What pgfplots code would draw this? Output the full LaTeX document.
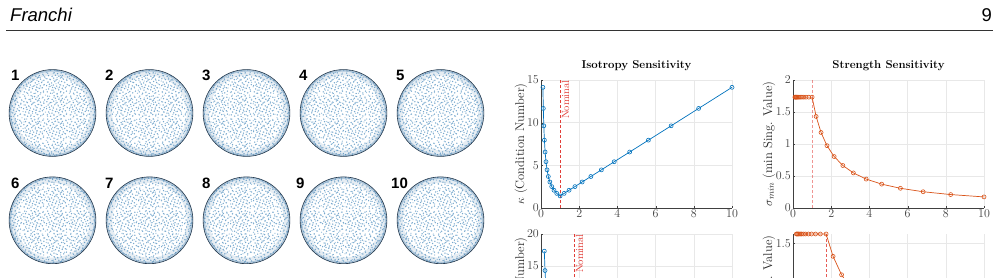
\documentclass[border=0pt]{standalone}
\usepackage{fontspec}
\usepackage{pgfplots}
\pgfplotsset{compat=1.18}
\usetikzlibrary{patterns}
\newfontfamily\headfont{Liberation Sans}

\definecolor{matblue}{RGB}{0,114,189}
\definecolor{matorange}{RGB}{217,83,25}
\definecolor{nomred}{RGB}{226,62,56}
\definecolor{dotblue}{RGB}{120,168,205}
\definecolor{dotpale}{RGB}{160,196,222}
\definecolor{rimblue}{RGB}{50,110,160}
\definecolor{rimline}{RGB}{38,58,78}
\definecolor{axgray}{RGB}{64,64,64}

% two speckled fills with different periods, overlaid on the sampled discs
\pgfdeclarepatternformonly{speckle}{\pgfpointorigin}{\pgfpoint{23pt}{23pt}}{\pgfpoint{23pt}{23pt}}{%
  \foreach \a/\b in {1.3/2.1,4.7/0.8,8.2/1.9,11.6/0.5,15.3/2.4,18.4/1.1,21.2/3.0,
                     2.8/5.2,6.1/4.0,9.9/5.6,13.2/4.3,16.8/5.9,20.1/6.4,
                     0.6/8.7,4.2/7.9,7.6/9.3,11.1/8.1,14.5/9.6,17.9/8.4,22.0/9.8,
                     2.2/12.3,5.8/11.4,9.1/12.8,12.7/11.6,16.2/13.0,19.2/11.9,
                     0.9/15.8,4.5/14.9,8.0/16.4,11.4/15.2,14.9/16.6,18.1/15.3,21.5/14.2,
                     2.6/18.9,6.3/18.1,9.7/19.4,13.4/18.4,17.0/19.2,20.6/20.5,
                     6.9/6.8,13.9/7.1,3.5/10.2,10.3/14.3,16.1/17.4,1.8/21.6,
                     8.4/21.9,12.0/21.1,15.7/21.8,22.3/17.6}{%
    \pgfpathcircle{\pgfpoint{\a pt}{\b pt}}{0.78pt}\pgfusepath{fill}}%
}
\pgfdeclarepatternformonly{speckleb}{\pgfpointorigin}{\pgfpoint{17pt}{17pt}}{\pgfpoint{17pt}{17pt}}{%
  \foreach \a/\b in {2.4/0.9,7.3/3.1,12.8/1.6,15.9/4.4,0.7/5.8,5.2/7.6,
                     10.1/6.3,14.2/9.1,3.1/11.2,8.6/10.4,12.0/13.5,16.3/12.2,
                     1.5/15.4,6.4/14.1,9.9/16.2,4.0/3.7}{%
    \pgfpathcircle{\pgfpoint{\a pt}{\b pt}}{0.7pt}\pgfusepath{fill}}%
}

\newcommand\labfont{\fontsize{12.6}{13}\selectfont}
\newcommand\tickfont{\fontsize{11.5}{12}\selectfont}

\pgfplotsset{
  sens/.style={
    scale only axis, width=191pt, height=128pt, anchor=south west,
    axis lines=left, axis line style={-, axgray, line width=0.5pt},
    xmin=0, xmax=10, xtick={0,2,...,10},
    grid=major, major grid style={gray!18, line width=0.4pt},
    tick align=inside, major tick length=2pt, tick style={axgray},
    xticklabel style={font=\tickfont, text=axgray, inner sep=2pt},
    yticklabel style={font=\tickfont, text=axgray, inner sep=2pt},
    title style={font=\fontsize{11.4}{12}\selectfont\bfseries, at={(0.5,1)}, anchor=base, yshift=5pt},
    every axis y label/.style={at={(axis description cs:0,0.5)}, rotate=90, anchor=center,
                               font=\labfont, text=black!85},
    clip=false,
  },
  blueline/.style={matblue, line width=0.7pt, mark=o, mark size=2pt, mark options={line width=0.6pt}},
  orangeline/.style={matorange, line width=0.7pt, mark=o, mark size=2pt, mark options={line width=0.6pt}},
}

\begin{document}
\begin{tikzpicture}[x=1pt,y=1pt]
\useasboundingbox (0,0) rectangle (999,278);
\clip (0,0) rectangle (999,278);

% running head
\node[anchor=base west, inner sep=0, font=\headfont\itshape\fontsize{18.5}{19}\selectfont] at (10,256.7) {Franchi};
\node[anchor=base east, inner sep=0, font=\headfont\fontsize{18.5}{19}\selectfont] at (992,256.7) {9};
\draw[black!80, line width=0.8pt] (6,247.3) -- (993,247.3);

% sampled discs
\foreach \cx/\cy/\lab/\lx/\ly in {52.5/165/1/11/197.5, 149.5/165/2/105/197.5, 246.5/165/3/202/197.5,
                                   343.5/165/4/299/197.5, 440.5/165/5/396/197.5,
                                   52.5/57.7/6/11/89, 149.5/57.7/7/105/89, 246.5/57.7/8/202/89,
                                   343.5/57.7/9/296/89, 440.5/57.7/10/391/89}{
  \fill[pattern=speckle, pattern color=dotblue] (\cx,\cy) circle (43.4);
  \fill[pattern=speckleb, pattern color=dotpale] (\cx,\cy) circle (43.4);
  \draw[rimblue, opacity=0.12, line width=6pt] (\cx,\cy) circle (40.4);
  \draw[rimblue, opacity=0.3, line width=2pt] (\cx,\cy) circle (42.4);
  \draw[rimline, line width=0.6pt] (\cx,\cy) circle (43.4);
  \node[anchor=base west, inner sep=0, font=\headfont\bfseries\fontsize{15}{15}\selectfont] at (\lx,\ly) {\lab};
}

% isotropy sensitivity
\begin{axis}[sens, at={(541pt,70pt)}, ymin=0, ymax=15, ytick={0,5,10,15},
  title={Isotropy Sensitivity}, ylabel={$\kappa$ (Condition Number)}, ylabel style={yshift=20pt}]
  \draw[nomred, dash pattern=on 3pt off 2pt, line width=0.6pt] (axis cs:1,0) -- (axis cs:1,15);
  \node[rotate=90, anchor=north east, text=nomred, inner sep=1.5pt, xshift=1.5pt,
        font=\fontsize{10.5}{11}\selectfont] at (axis cs:1,15) {Nominal};
  \addplot[blueline] coordinates {
    (0.1000,14.14) (0.1212,11.67) (0.1468,9.63) (0.1778,7.95) (0.2154,6.56)
    (0.2610,5.42) (0.3162,4.47) (0.3831,3.69) (0.4642,3.05) (0.5623,2.51)
    (0.6813,2.08) (0.8254,1.71) (1.0000,1.41) (1.2115,1.71) (1.4678,2.08)
    (1.7783,2.51) (2.1544,3.05) (2.6102,3.69) (3.1623,4.47) (3.8312,5.42)
    (4.6416,6.56) (5.6234,7.95) (6.8129,9.63) (8.2540,11.67) (10.000,14.14)};
\end{axis}

% strength sensitivity
\begin{axis}[sens, at={(793pt,70pt)}, ymin=0, ymax=2, ytick={0,0.5,1,1.5,2},
  title={Strength Sensitivity}, ylabel={$\sigma_{min}$ (min Sing. Value)}, ylabel style={yshift=24pt}]
  \draw[nomred, opacity=0.55, dash pattern=on 3pt off 2pt, line width=0.8pt] (axis cs:1,0) -- (axis cs:1,2);
  \addplot[orangeline] coordinates {
    (0.1000,1.732) (0.1212,1.732) (0.1468,1.732) (0.1778,1.732) (0.2154,1.732)
    (0.2610,1.732) (0.3162,1.732) (0.3831,1.732) (0.4642,1.732) (0.5623,1.732)
    (0.6813,1.732) (0.8254,1.732) (1.0000,1.732) (1.2115,1.430) (1.4678,1.180)
    (1.7783,0.974) (2.1544,0.804) (2.6102,0.664) (3.1623,0.548) (3.8312,0.452)
    (4.6416,0.373) (5.6234,0.308) (6.8129,0.254) (8.2540,0.210) (10.000,0.173)};
\end{axis}

% second row (continues below)
\begin{axis}[sens, at={(541pt,-84pt)}, ymin=0, ymax=20, ytick={0,5,10,15,20},
  ylabel={$\kappa$ (Condition Number)}, ylabel style={yshift=20pt}]
  \draw[nomred, dash pattern=on 3pt off 2pt, line width=0.6pt] (axis cs:1.732,0) -- (axis cs:1.732,20);
  \node[rotate=90, anchor=north east, text=nomred, inner sep=1.5pt, xshift=1.5pt,
        font=\fontsize{10.5}{11}\selectfont] at (axis cs:1.732,20) {Nominal};
  \addplot[blueline] coordinates {
    (0.1732,17.32) (0.2099,14.29) (0.2542,11.80) (0.3080,9.74) (0.3732,8.04)
    (0.4521,6.64) (0.5477,5.48) (0.6636,4.52) (0.8040,3.73) (0.9740,3.08)
    (1.1800,2.54) (1.4296,2.10) (1.7321,1.73) (2.0984,2.10) (2.5424,2.54)
    (3.0801,3.08) (3.7317,3.73) (4.5211,4.52) (5.4772,5.48) (6.6357,6.64)
    (8.0395,8.04) (9.7401,9.74)};
\end{axis}

\begin{axis}[sens, at={(793pt,-84pt)}, ymin=0, ymax=1.62, ytick={0,0.5,1,1.5},
  ylabel={$\sigma_{min}$ (min Sing. Value)}, ylabel style={yshift=24pt}]
  \draw[nomred, opacity=0.85, dash pattern=on 3pt off 2pt, line width=0.6pt] (axis cs:1.732,0) -- (axis cs:1.732,1.62);
  \addplot[orangeline] coordinates {
    (0.1732,1.62) (0.2099,1.62) (0.2542,1.62) (0.3080,1.62) (0.3732,1.62)
    (0.4521,1.62) (0.5477,1.62) (0.6636,1.62) (0.8040,1.62) (0.9740,1.62)
    (1.1800,1.62) (1.4296,1.62) (1.7321,1.62) (2.0984,1.337) (2.5424,1.104)
    (3.0801,0.911) (3.7317,0.752) (4.5211,0.621) (5.4772,0.512) (6.6357,0.423)
    (8.0395,0.349) (9.7401,0.288)};
\end{axis}
\end{tikzpicture}
\end{document}
